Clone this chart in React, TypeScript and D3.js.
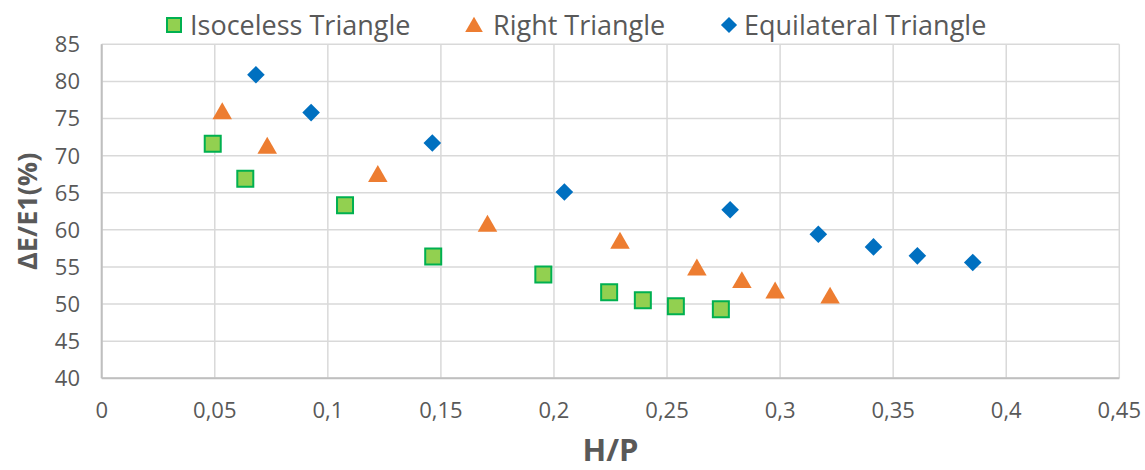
import React from "react";
import * as d3 from "d3";

const isoX = [0.0491, 0.0635, 0.1076, 0.1466, 0.1953, 0.2244, 0.2393, 0.2539, 0.2738];
const isoY = [71.6, 66.9, 63.3, 56.4, 54.0, 51.6, 50.5, 49.7, 49.3];

const rightX = [0.0533, 0.0732, 0.1221, 0.1706, 0.2292, 0.2632, 0.2831, 0.2978, 0.3221];
const rightY = [76.05, 71.4, 67.6, 60.9, 58.6, 55.0, 53.3, 51.9, 51.2];

const equiX = [0.0682, 0.0926, 0.1462, 0.2046, 0.2779, 0.3169, 0.3413, 0.3607, 0.3852];
const equiY = [80.9, 75.8, 71.7, 65.1, 62.7, 59.4, 57.7, 56.5, 55.6];

const xTicks = [0, 0.05, 0.1, 0.15, 0.2, 0.25, 0.3, 0.35, 0.4, 0.45];
const yTicks = [40, 45, 50, 55, 60, 65, 70, 75, 80, 85];

const seriesNames = ["Isoceless Triangle", "Right Triangle", "Equilateral Triangle"];

const W = 1145;
const H = 470;
const left = 101.7;
const right = 1119.3;
const top = 44.3;
const bottom = 378.3;

const FONT = "'Open Sans', 'Noto Sans', sans-serif";
const TXT = "#595959";

const fmt = (v: number) => String(v).replace(".", ",");

export default function App() {
  const x = d3.scaleLinear().domain([0, 0.45]).range([left, right]);
  const y = d3.scaleLinear().domain([40, 85]).range([bottom, top]);

  const sq = d3.symbol().type(d3.symbolSquare).size(256)() as string;
  const triSize = 165;
  const tri = d3.symbol().type(d3.symbolTriangle).size(triSize)() as string;
  const triSide = Math.sqrt((triSize * 4) / Math.sqrt(3));
  const triH = (triSide * Math.sqrt(3)) / 2;
  const triOff = triH / 6;
  const dia = d3.symbol().type(d3.symbolSquare).size(155)() as string;

  const legendY = 25;

  return (
    <svg
      width={W}
      height={H}
      style={{ position: "absolute", left: 0, top: 0, background: "#fff" }}
      fontFamily={FONT}
    >
      {/* gridlines */}
      {yTicks.map((t) => (
        <line key={"gy" + t} x1={left} x2={right} y1={y(t)} y2={y(t)} stroke="#d9d9d9" strokeWidth={1.5} />
      ))}
      {xTicks.map((t) => (
        <line key={"gx" + t} x1={x(t)} x2={x(t)} y1={top} y2={bottom} stroke="#d9d9d9" strokeWidth={1.5} />
      ))}
      {/* axes */}
      <line x1={left} x2={left} y1={top} y2={bottom} stroke="#bfbfbf" strokeWidth={2} />
      <line x1={left} x2={right} y1={bottom} y2={bottom} stroke="#bfbfbf" strokeWidth={2} />

      {/* tick labels */}
      {yTicks.map((t) => (
        <text key={"ty" + t} x={80} y={y(t)} dy="0.36em" textAnchor="end" fontSize={22} fill={TXT}>
          {t}
        </text>
      ))}
      {xTicks.map((t) => (
        <text key={"tx" + t} x={x(t)} y={418} textAnchor="middle" fontSize={22} fill={TXT}>
          {fmt(t)}
        </text>
      ))}

      {/* axis titles */}
      <text x={(left + right) / 2} y={461} textAnchor="middle" fontSize={31} fontWeight="bold" fill={TXT}>
        H/P
      </text>
      <text
        transform={`translate(37,${(top + bottom) / 2}) rotate(-90)`}
        textAnchor="middle"
        fontSize={27}
        fontWeight="bold"
        fill={TXT}
      >
        ΔE/E1(%)
      </text>

      {/* data */}
      {isoX.map((v, i) => (
        <path
          key={"iso" + i}
          d={sq}
          transform={`translate(${x(v)},${y(isoY[i])})`}
          fill="#92d050"
          stroke="#00b050"
          strokeWidth={2}
        />
      ))}
      {rightX.map((v, i) => (
        <path key={"rt" + i} d={tri} transform={`translate(${x(v)},${y(rightY[i]) + triOff})`} fill="#ed7d31" />
      ))}
      {equiX.map((v, i) => (
        <path key={"eq" + i} d={dia} transform={`translate(${x(v)},${y(equiY[i])}) rotate(45)`} fill="#0070c0" />
      ))}

      {/* legend */}
      <path d={d3.symbol().type(d3.symbolSquare).size(196)() as string} transform={`translate(174,${legendY})`} fill="#92d050" stroke="#00b050" strokeWidth={2} />
      <text x={190} y={legendY} dy="0.36em" fontSize={27} fill={TXT}>
        {seriesNames[0]}
      </text>
      <path d={d3.symbol().type(d3.symbolTriangle).size(135)() as string} transform={`translate(474,${legendY + 2})`} fill="#ed7d31" />
      <text x={493} y={legendY} dy="0.36em" fontSize={27} fill={TXT}>
        {seriesNames[1]}
      </text>
      <path d={d3.symbol().type(d3.symbolSquare).size(130)() as string} transform={`translate(729,${legendY}) rotate(45)`} fill="#0070c0" />
      <text x={744} y={legendY} dy="0.36em" fontSize={27} fill={TXT}>
        {seriesNames[2]}
      </text>
    </svg>
  );
}
